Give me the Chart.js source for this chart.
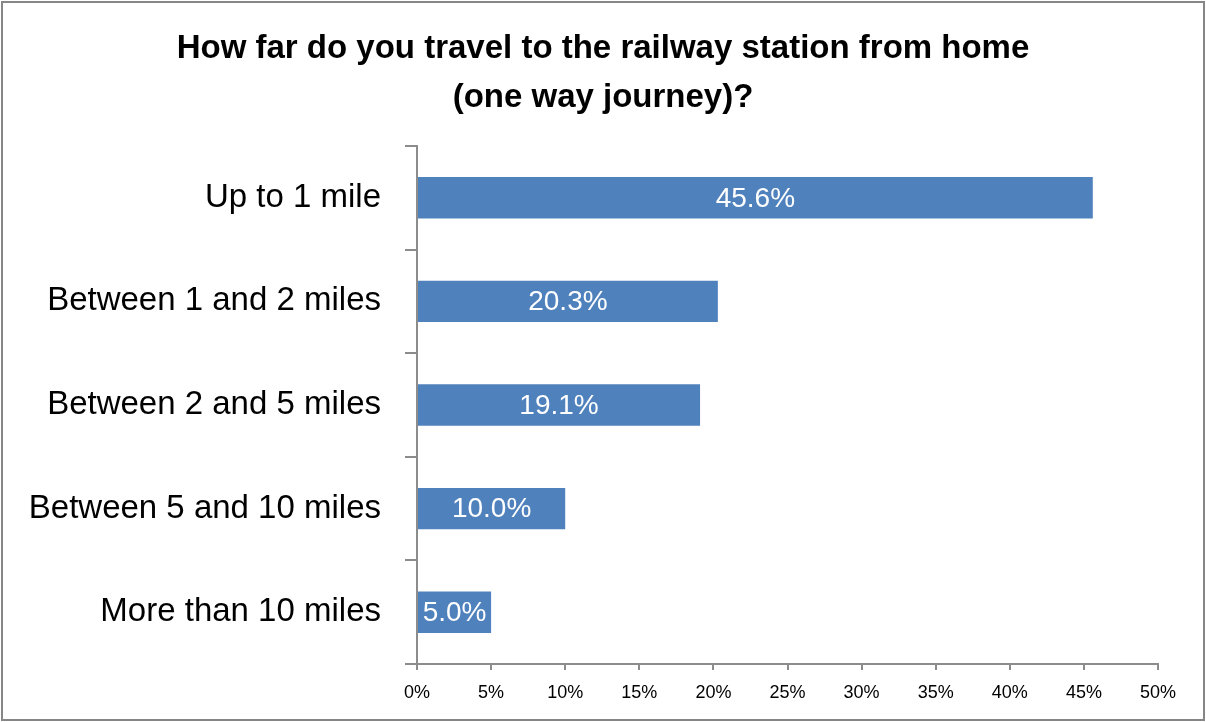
<!DOCTYPE html>
<html>
<head>
    <title>Distance to the railway station</title>
    <script src="https://cdn.jsdelivr.net/npm/chart.js"></script>
    <style>
        body { margin: 0; background: #fff; }
        #wrap { position: relative; width: 1206px; height: 722px; }
    </style>
</head>
<body>
    <div id="wrap">
        <canvas id="distanceChart" width="1206" height="722"></canvas>
    </div>
    <script>
        // survey answers, in percent
        const categories = ['Up to 1 mile', 'Between 1 and 2 miles', 'Between 2 and 5 miles', 'Between 5 and 10 miles', 'More than 10 miles'];
        const shares = [45.6, 20.3, 19.1, 10.0, 5.0];
        const titleLines = ['How far do you travel to the railway station from home', '(one way journey)?'];
        const xMax = 50;
        const xStep = 5;

        const font = "'Liberation Sans', Arial, sans-serif";
        const axisGrey = '#8c8c8c';

        // white value labels inside the bars
        const barLabels = {
            id: 'barLabels',
            afterDatasetsDraw(chart) {
                const ctx = chart.ctx;
                const meta = chart.getDatasetMeta(0);
                ctx.save();
                ctx.fillStyle = '#ffffff';
                ctx.font = '28px ' + font;
                ctx.textAlign = 'center';
                ctx.textBaseline = 'middle';
                meta.data.forEach((bar, i) => {
                    const x = (bar.base + bar.x) / 2;
                    ctx.fillText(shares[i].toFixed(1) + '%', x, bar.y + 1);
                });
                ctx.restore();
            }
        };

        // title centred on the whole canvas, plus the outer frame
        const frame = {
            id: 'frame',
            afterDraw(chart) {
                const ctx = chart.ctx;
                ctx.save();
                ctx.fillStyle = '#000';
                ctx.font = 'bold 33px ' + font;
                ctx.textAlign = 'center';
                ctx.textBaseline = 'middle';
                titleLines.forEach((line, i) => {
                    ctx.fillText(line, chart.width / 2, 49 + i * 49);
                });
                ctx.strokeStyle = '#868686';
                ctx.lineWidth = 2;
                ctx.strokeRect(2, 2, chart.width - 4, chart.height - 4);
                ctx.restore();
            }
        };

        const ctx = document.getElementById('distanceChart').getContext('2d');
        const distanceChart = new Chart(ctx, {
            type: 'bar',
            data: {
                labels: categories,
                datasets: [{
                    data: shares,
                    backgroundColor: '#4f81bd',
                    borderWidth: 0,
                    barPercentage: 0.4,
                    categoryPercentage: 1.0,
                }],
            },
            options: {
                indexAxis: 'y',
                responsive: false,
                animation: false,
                layout: {
                    padding: { left: 0, right: 48, top: 146, bottom: 0 },
                },
                plugins: {
                    legend: { display: false },
                    tooltip: { enabled: false },
                    title: { display: false },
                },
                scales: {
                    x: {
                        min: 0,
                        max: xMax,
                        ticks: {
                            stepSize: xStep,
                            color: '#000',
                            padding: 12,
                            font: { family: font, size: 18 },
                            callback: v => v + '%',
                        },
                        grid: {
                            drawOnChartArea: false,
                            drawTicks: true,
                            tickLength: 6,
                            color: axisGrey,
                            lineWidth: 2,
                        },
                        border: { display: true, color: axisGrey, width: 2 },
                        afterFit: scale => { scale.height = 58; },
                    },
                    y: {
                        ticks: {
                            color: '#000',
                            padding: 24,
                            font: { family: font, size: 33 },
                        },
                        grid: {
                            drawOnChartArea: false,
                            drawTicks: true,
                            tickLength: 12,
                            color: axisGrey,
                            lineWidth: 2,
                        },
                        border: { display: true, color: axisGrey, width: 2 },
                        afterFit: scale => { scale.width = 417; },
                    },
                },
            },
            plugins: [barLabels, frame],
        });
    </script>
</body>
</html>
